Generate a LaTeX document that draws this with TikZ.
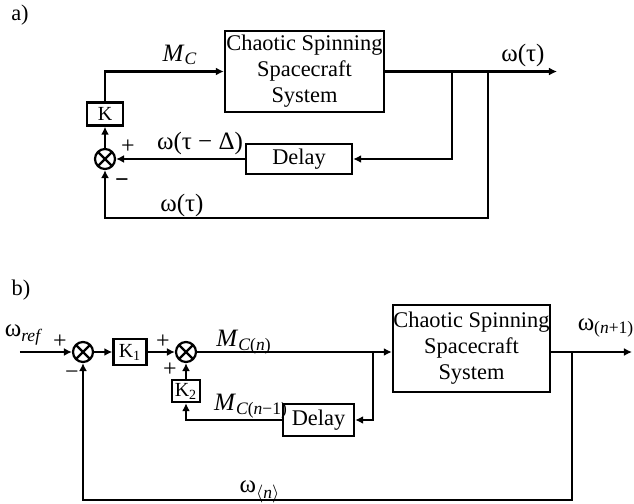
\documentclass[tikz,border=0pt]{standalone}
\usepackage{fontspec}
\setmainfont{Liberation Serif}
\usetikzlibrary{arrows.meta,positioning,calc}

\begin{document}
\begin{tikzpicture}[
  x=0.5pt, y=-0.5pt,
  font=\fontsize{11.2}{13}\selectfont,
  line width=1.1pt,
  blk/.style={draw, align=center, inner sep=0pt, line width=1.2pt},
  gain/.style={blk, font=\fontsize{10}{12}\selectfont},
  sumc/.style={draw, circle, minimum size=10pt, inner sep=0pt, line width=1.1pt,
    path picture={\draw[line width=1.1pt] (path picture bounding box.north west)--(path picture bounding box.south east)
      (path picture bounding box.north east)--(path picture bounding box.south west);}},
  lbl/.style={inner sep=0pt, font=\fontsize{12.5}{14}\selectfont},
  sgn/.style={inner sep=0pt, font=\fontsize{12}{14}\selectfont},
  ar/.style={-{Latex[length=4pt,width=4pt]}},
]
\useasboundingbox (0,0) rectangle (634,504);
% a)
\node (la) at (20,15) {a)};
\node[blk, minimum width=79.5pt, minimum height=40.5pt] (sysa) at (304.5,71.5) {Chaotic Spinning\\Spacecraft\\System};
\node[gain, minimum width=18pt, minimum height=11.5pt] (k) at (105,114) {K};
\node[sumc] (sa) at (105,159) {};
\node[blk, minimum width=53pt, minimum height=15pt] (dla) at (299,159) {Delay};
\coordinate (outa) at (557,71.5);
\coordinate (ba1) at (452,71.5);
\coordinate (ba2) at (488,71.5);
\coordinate (bota) at (488,218);
\draw[ar] (k.north) |- (sysa.west);
\draw[ar] (sa) -- (k);
\draw[ar] (sysa.east) -- (outa);
\draw[ar] (ba1) |- (dla.east);
\draw[ar] (dla.west) -- (sa.east);
\draw[ar] (ba2) -- (bota) -| (sa.south);
\node[lbl] (mc) at (180,55) {\textit{M}\textsubscript{\textit{C}}};
\node[lbl] (wouta) at (523,55) {ω(τ)};
\node[lbl] (wdel) at (200,143) {ω(τ − Δ)};
\node[lbl] (wfba) at (182,205) {ω(τ)};
\node[sgn] (pa) at (128,147) {+};
\node[sgn] (ma) at (122,183) {\textbf{−}};
% b)
\node (lb) at (21,290) {b)};
\node[sumc] (s1) at (83,352) {};
\node[gain, minimum width=16.5pt, minimum height=13pt] (k1) at (130,352) {K\textsubscript{1}};
\node[sumc] (s2) at (186,352) {};
\node[gain, minimum width=14pt, minimum height=11pt] (k2) at (186,391) {K\textsubscript{2}};
\node[blk, minimum width=35.5pt, minimum height=16pt] (dlb) at (318.5,420) {Delay};
\node[blk, minimum width=78.5pt, minimum height=43.5pt] (sysb) at (471.5,348.5) {Chaotic Spinning\\Spacecraft\\System};
\coordinate (inb) at (20,352);
\coordinate (outb) at (632,352);
\coordinate (bb1) at (373,352);
\coordinate (bb2) at (572,352);
\coordinate (botb) at (572,500);
\draw[ar] (inb) -- (s1);
\draw[ar] (s1) -- (k1);
\draw[ar] (k1) -- (s2);
\draw[ar] (k2) -- (s2);
\draw[ar] (dlb.west) -| (k2.south);
\draw[ar] (s2) -- (s2 -| sysb.west);
\draw[ar] (s2 -| sysb.east) -- (outb);
\draw[ar] (bb1) |- (dlb.east);
\draw[ar] (bb2) -- (botb) -| (s1.south);
\node[lbl] (wref) at (24,335) {ω\textsubscript{\textit{ref}}};
\node[sgn] (p1) at (60,342) {+};
\node[sgn] (m1) at (72,375) {−};
\node[sgn] (p2) at (163,342) {+};
\node[sgn] (p3) at (170,370) {+};
\node[lbl] (mcn) at (244,342) {\textit{M}\textsubscript{\textit{C}(\textit{n})}};
\node[lbl] (mcn1) at (251,406) {\textit{M}\textsubscript{\textit{C}(\textit{n}−1)}};
\node[lbl] (wout) at (606,328) {ω\textsubscript{(\textit{n}+1)}};
\node[lbl] (wn) at (260,492) {ω\textsubscript{$\langle$\textit{n}$\rangle$}};
\end{tikzpicture}
\end{document}
